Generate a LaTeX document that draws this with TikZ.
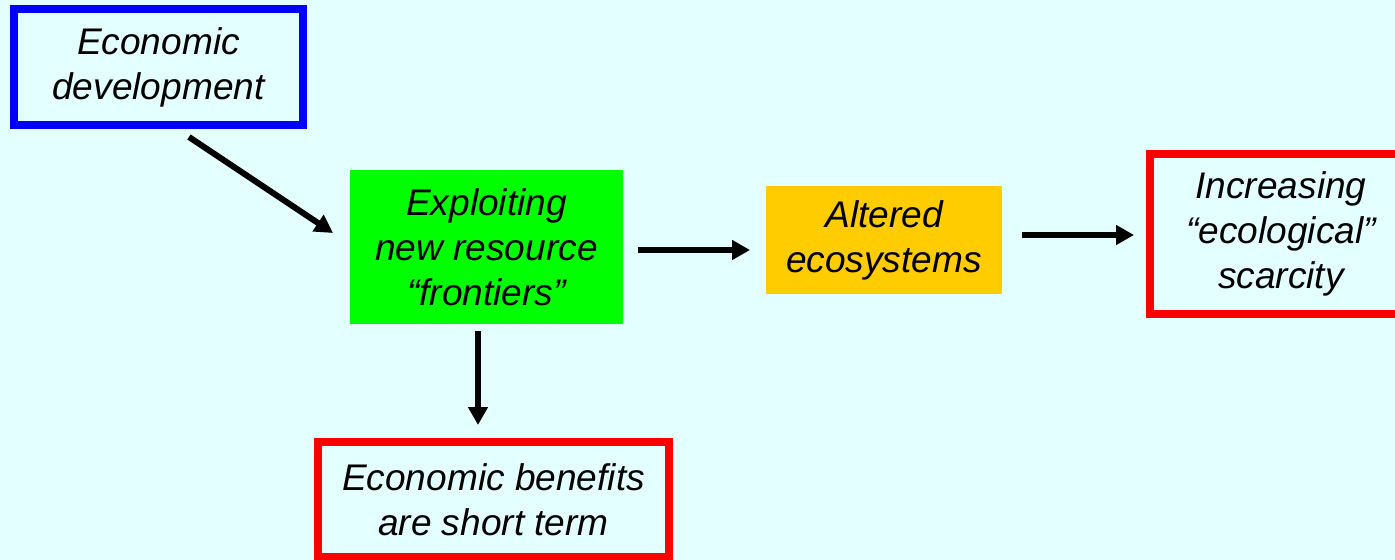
\documentclass[tikz,border=0pt]{standalone}
\usepackage{fontspec}
\setmainfont{Liberation Sans}
\usetikzlibrary{arrows.meta,calc,positioning}
\definecolor{bgcyan}{HTML}{E3FFFF}
\definecolor{boxgreen}{HTML}{00FF00}
\definecolor{boxorange}{HTML}{FFCC00}
\tikzset{flow/.style={-{Triangle[length=0.36cm, width=0.38cm]}, line width=0.12cm},
  blk/.style={inner sep=0pt, outer sep=0pt, align=center,
    font=\fontsize{21.1}{25.6}\selectfont\itshape},
  frame/.style={blk, draw, line width=0.16cm}}

\begin{document}
\begin{tikzpicture}[x=0.02cm, y=-0.02cm]
  % canvas
  \useasboundingbox (0,0) rectangle (1395,560);
  \clip (0,0) rectangle (1395,560);
  \fill[bgcyan] (0,0) rectangle (1395,560);
  % boxes
  \node[frame, draw=blue, minimum width=5.78cm, minimum height=2.32cm] (devel) at (158.5,67) {Economic\\development};
  \node[blk, fill=boxgreen, minimum width=5.46cm, minimum height=3.08cm] (frontier) at (486.5,247) {Exploiting\\new resource\\“frontiers”};
  \node[blk, fill=boxorange, minimum width=4.72cm, minimum height=2.16cm] (altered) at (884,240) {Altered\\ecosystems};
  \node[frame, draw=red, minimum width=5.24cm, minimum height=3.2cm] (scarcity) at (1281,234) {Increasing\\“ecological”\\scarcity};
  \node[frame, draw=red, minimum width=7.02cm, minimum height=2.3cm] (benefit) at (493.5,499.5) {Economic benefits\\are short term};
  % arrows
  \draw[flow] ($(devel.south east)+(-114,12)$) -- ($(frontier.west)+(-17,-14)$);
  \draw[flow] ($(frontier.east)+(15,3)$) -- ($(altered.west)+(-16,10)$);
  \draw[flow] ($(altered.east)+(20,-5)$) -- ($(scarcity.west)+(-16,1)$);
  \draw[flow] ($(frontier.south)+(-8.5,7)$) -- ($(benefit.north)+(-15.5,-17)$);
\end{tikzpicture}
\end{document}
